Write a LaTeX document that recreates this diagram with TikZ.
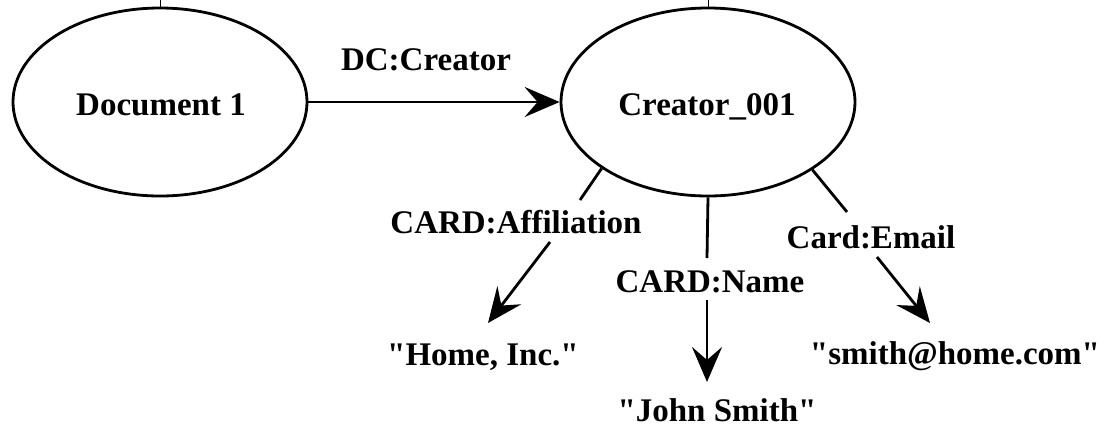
\documentclass[tikz,border=0pt]{standalone}
\usepackage{fontspec}
\setmainfont{Liberation Serif}[Ligatures=TeXOff]
\usetikzlibrary{shapes.geometric,arrows.meta}

\begin{document}
\begin{tikzpicture}[x=1pt,y=-1pt,
  every node/.style={font=\fontsize{33}{38}\selectfont\bfseries, inner sep=0pt},
  resource/.style={ellipse, draw, line width=2.8pt, minimum width=294pt, minimum height=188pt},
  lit/.style={anchor=base},
  prop/.style={anchor=base},
  edge/.style={line width=2.8pt},
  arc/.style={edge, -{Stealth[length=35pt, width=30pt, inset=13pt]}},
  tick/.style={line width=0.8pt}]
  \useasboundingbox (0,0) rectangle (1117,426);

  % resources
  \node[resource] (doc) at (160,102) {};
  \node[lit] at (161,115) {Document 1};
  \node[resource] (cr) at (708,102) {};
  \node[lit] at (707,115) {Creator\_001};
  \draw[tick] (doc.north) -- ++(0,-8);
  \draw[tick] (cr.north) -- ++(0,-8);

  % literals
  \node[lit] (home) at (483,365) {"Home, Inc."};
  \node[lit] (john) at (717,421) {"John Smith"};
  \node[lit] (mail) at (955,364) {"smith@home.com"};

  % property labels
  \node[prop] (pcr) at (426,70) {DC:Creator};
  \node[prop] (paff) at (516,233) {CARD:Affiliation};
  \node[prop] (pname) at (710,292) {CARD:Name};
  \node[prop] (pmail) at (871,248) {Card:Email};

  % connector break points around the labels
  \coordinate (aff1) at (580,200);
  \coordinate (aff2) at (550,242);
  \coordinate (afftip) at (488,323);
  \coordinate (name1) at (707,258);
  \coordinate (name2) at (707,300);
  \coordinate (nametip) at (707,382);
  \coordinate (mail1) at (847,212);
  \coordinate (mail2) at (877,257);
  \coordinate (mailtip) at (930,323);

  % arcs
  \draw[arc] (doc.east) -- (cr.west);
  \draw[edge] (cr.212) -- (aff1);
  \draw[arc] (aff2) -- (afftip);
  \draw[edge] (cr.south) -- (name1);
  \draw[arc] (name2) -- (nametip);
  \draw[edge] (cr.327.6) -- (mail1);
  \draw[arc] (mail2) -- (mailtip);
\end{tikzpicture}
\end{document}
